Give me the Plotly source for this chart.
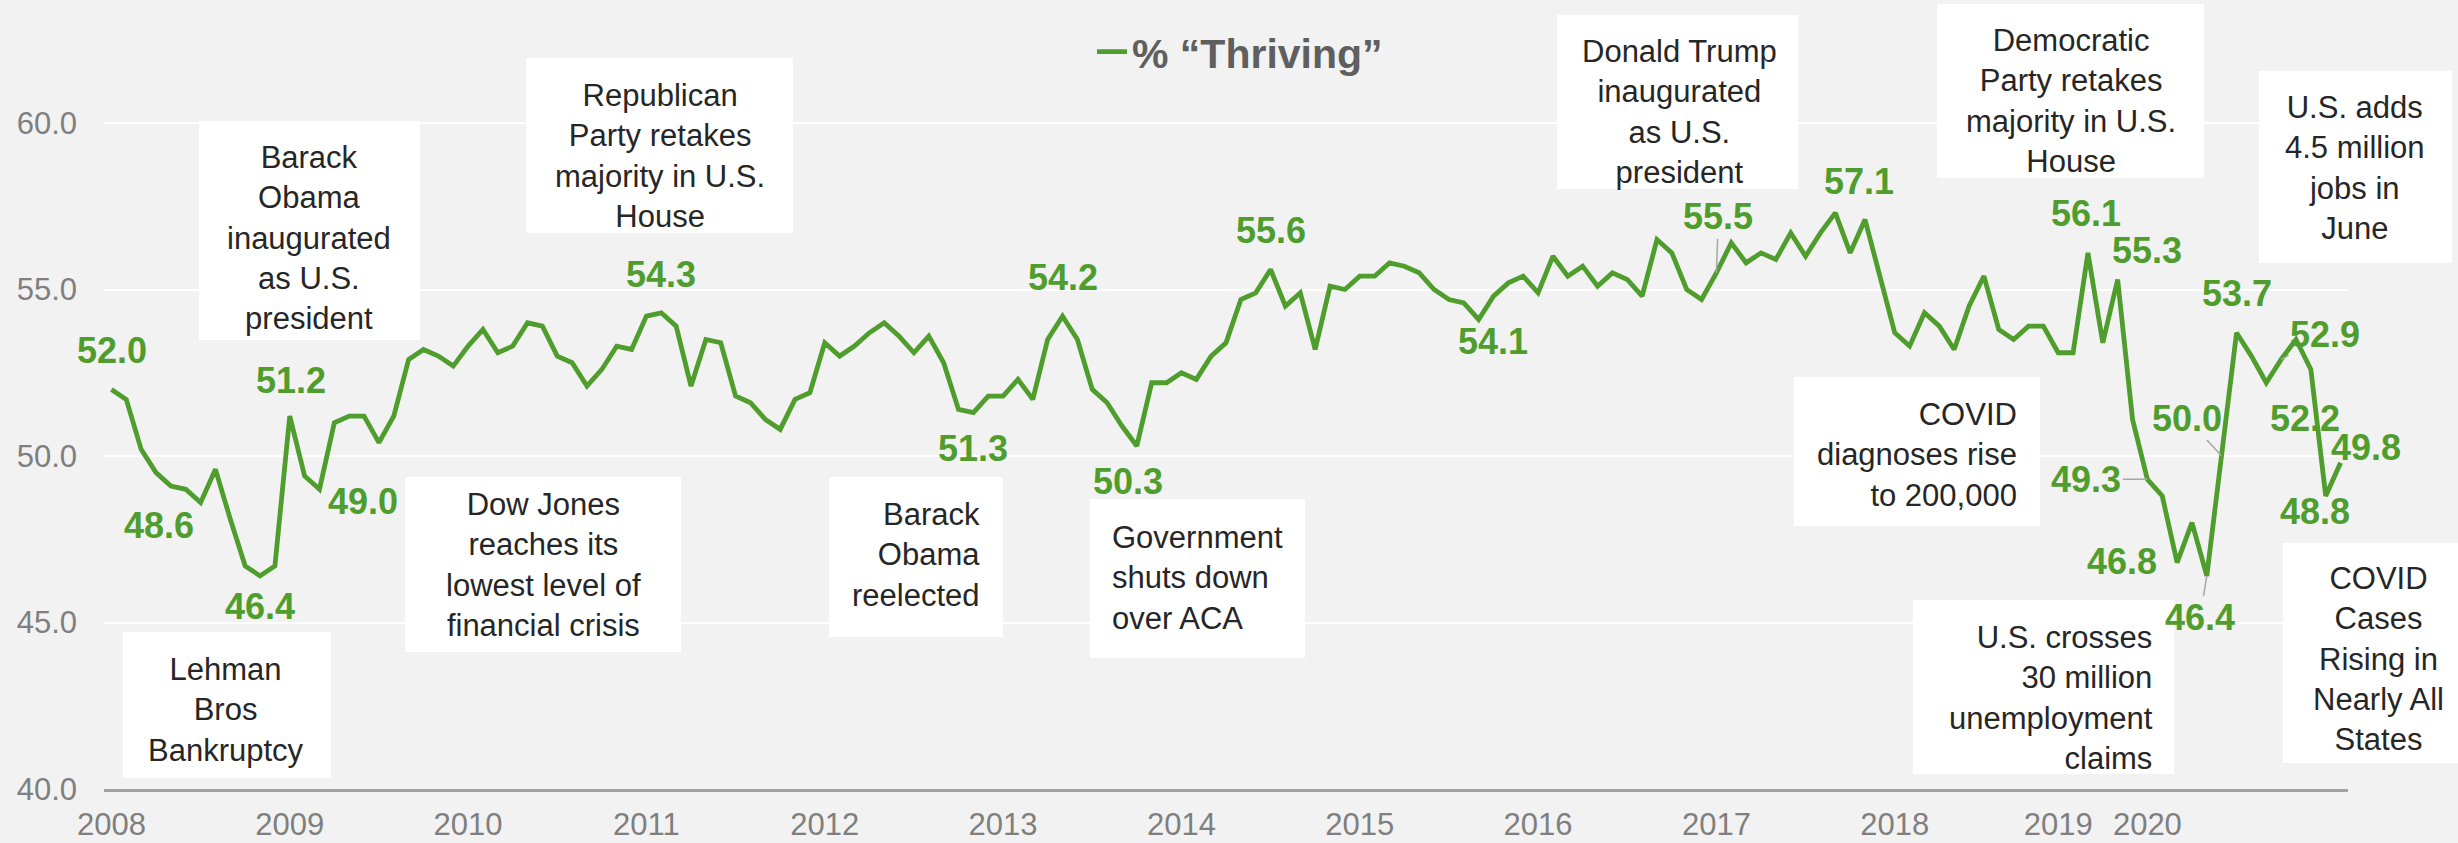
import plotly.graph_objects as go

# ---------------- data ----------------
years = list(range(2008, 2021))
points_per_year = [12] * 10 + [11, 6, 14]

thriving = [
    # 2008
    52.0, 51.7, 50.2, 49.5, 49.1, 49.0, 48.6, 49.6, 48.1, 46.7, 46.4, 46.7,
    # 2009
    51.2, 49.4, 49.0, 51.0, 51.2, 51.2, 50.4, 51.2, 52.9, 53.2, 53.0, 52.7,
    # 2010
    53.3, 53.8, 53.1, 53.3, 54.0, 53.9, 53.0, 52.8, 52.1, 52.6, 53.3, 53.2,
    # 2011
    54.2, 54.3, 53.9, 52.1, 53.5, 53.4, 51.8, 51.6, 51.1, 50.8, 51.7, 51.9,
    # 2012
    53.4, 53.0, 53.3, 53.7, 54.0, 53.6, 53.1, 53.6, 52.8, 51.4, 51.3, 51.8,
    # 2013
    51.8, 52.3, 51.7, 53.5, 54.2, 53.5, 52.0, 51.6, 50.9, 50.3, 52.2, 52.2,
    # 2014
    52.5, 52.3, 53.0, 53.4, 54.7, 54.9, 55.6, 54.5, 54.9, 53.2, 55.1, 55.0,
    # 2015
    55.4, 55.4, 55.8, 55.7, 55.5, 55.0, 54.7, 54.6, 54.1, 54.8, 55.2, 55.4,
    # 2016
    54.9, 56.0, 55.4, 55.7, 55.1, 55.5, 55.3, 54.8, 56.5, 56.1, 55.0, 54.7,
    # 2017
    55.5, 56.4, 55.8, 56.1, 55.9, 56.7, 56.0, 56.7, 57.3, 56.1, 57.1, 55.4,
    # 2018
    53.7, 53.3, 54.3, 53.9, 53.2, 54.5, 55.4, 53.8, 53.5, 53.9, 53.9,
    # 2019
    53.1, 53.1, 56.1, 53.4, 55.3, 51.1,
    # 2020
    49.3, 48.8, 46.8, 48.0, 46.4, 50.0, 53.7, 53.0, 52.2, 52.9, 53.5, 52.6, 48.8, 49.8,
]

periods = [f"{y}-{k:02d}" for y, n in zip(years, points_per_year) for k in range(1, n + 1)]
year_ticks = [f"{y}-01" for y in years]
year_labels = [str(y) for y in years]

y_ticks = [40, 45, 50, 55, 60]

# labelled points: (index, x shift px, y shift px (up))
labelled = [(0, 1, 39), (6, -42, -23), (10, 0, -31), (12, 1, 36), (14, 44, -12),
            (37, 0, 38), (58, 0, -36), (64, 0, 39), (69, -9, -35), (78, 0, 39),
            (92, 14, -22), (118, -6, 38), (133, -2, 39), (135, 29, 29),
            (139, -55, 1), (143, 0, 39), (145, 39, -36), (149, -11, -16), (150, 25, 15)]
# labelled points with leader lines: (index, ax, ay) in screen px
leadered = [(108, 2, -56), (137, -61, 0), (141, -7, 42), (142, -35, -38), (146, 44, -25)]

events = [
    # text, box (x0, y0, x1, y1) px, align, anchor x px, text centre y px
    ("Lehman<br>Bros<br>Bankruptcy", (123, 632, 331, 778), "center", 226, 710),
    ("Barack<br>Obama<br>inaugurated<br>as U.S.<br>president", (199, 121, 420, 340), "center", 309, 238),
    ("Dow Jones<br>reaches its<br>lowest level of<br>financial crisis", (405, 477, 681, 652), "center", 543, 565),
    ("Republican<br>Party retakes<br>majority in U.S.<br>House", (526, 58, 793, 233), "center", 660, 156),
    ("Barack<br>Obama<br>reelected", (829, 477, 1003, 637), "right", 982, 555),
    ("Government<br>shuts down<br>over ACA", (1090, 499, 1305, 658), "left", 1110, 578),
    ("Donald Trump<br>inaugurated<br>as U.S.<br>president", (1557, 15, 1798, 189), "center", 1679, 112),
    ("Democratic<br>Party retakes<br>majority in U.S.<br>House", (1937, 4, 2204, 178), "center", 2071, 101),
    ("U.S. adds<br>4.5 million<br>jobs in<br>June", (2259, 71, 2452, 263), "center", 2355, 168),
    ("COVID<br>diagnoses rise<br>to 200,000", (1794, 377, 2040, 526), "right", 2019, 455),
    ("U.S. crosses<br>30 million<br>unemployment<br>claims", (1913, 600, 2174, 774), "right", 2155, 698),
    ("COVID<br>Cases<br>Rising in<br>Nearly All<br>States", (2283, 543, 2470, 763), "center", 2378, 659),
]

# ---------------- geometry / style ----------------
W, H = 2458, 843
ML, MR, MT, MB = 104, 110, 0, 54
PW, PH = W - ML - MR, H - MT - MB
PX_PER_UNIT = (PH - 123) / 20.0  # 60.0 gridline sits at y=123


def pxx(x):
    return (x - ML) / PW


def pxy(y):
    return (H - MB - y) / PH


GREEN = "#4F9D2D"
FONT = "Liberation Sans, Arial, sans-serif"
TEXT_DARK = "#262626"
GREY = "#7F7F7F"

fig = go.Figure()
fig.add_trace(go.Scatter(
    x=periods, y=thriving, mode="lines",
    name="<b>% “Thriving”</b>",
    line=dict(color=GREEN, width=4.8),
    hoverinfo="skip",
))

annotations = []
for i, dx, dy in labelled:
    annotations.append(dict(
        x=periods[i], y=thriving[i], xref="x", yref="y",
        text=f"<b>{thriving[i]:.1f}</b>", showarrow=False,
        xshift=dx, yshift=dy,
        font=dict(family=FONT, size=36, color=GREEN),
    ))
for i, ax, ay in leadered:
    annotations.append(dict(
        x=periods[i], y=thriving[i], xref="x", yref="y",
        text=f"<b>{thriving[i]:.1f}</b>", showarrow=True,
        ax=ax, ay=ay, arrowhead=0, arrowwidth=1.5, arrowcolor="#A6A6A6",
        standoff=0, startstandoff=0,
        font=dict(family=FONT, size=36, color=GREEN),
    ))

shapes = []
for text, (x0, y0, x1, y1), align, ax_px, cy in events:
    shapes.append(dict(
        type="rect", xref="paper", yref="paper",
        x0=pxx(x0), x1=pxx(x1), y0=pxy(y1), y1=pxy(y0),
        fillcolor="white", line=dict(width=0), layer="below",
    ))
    annotations.append(dict(
        x=pxx(ax_px), y=pxy(cy), xref="paper", yref="paper",
        text=text, showarrow=False, align=align,
        xanchor=align, yanchor="middle",
        font=dict(family=FONT, size=31, color=TEXT_DARK),
    ))

fig.update_layout(
    width=W, height=H,
    margin=dict(l=ML, r=MR, t=MT, b=MB, autoexpand=False),
    paper_bgcolor="#F2F2F2", plot_bgcolor="#F2F2F2",
    font=dict(family=FONT, color=GREY),
    showlegend=True,
    legend=dict(
        x=pxx(1092), y=pxy(52), xanchor="left", yanchor="middle",
        bgcolor="rgba(0,0,0,0)", orientation="h",
        font=dict(family=FONT, size=41, color="#5F5F5F"),
    ),
    annotations=annotations,
    shapes=shapes,
)
fig.update_xaxes(
    type="category", range=[-0.5, len(periods) - 0.5],
    tickmode="array", tickvals=year_ticks, ticktext=year_labels,
    showgrid=False, showline=True, linecolor="#A0A0A0", linewidth=2.5,
    ticks="", ticklabelstandoff=6,
    tickfont=dict(family=FONT, size=31, color=GREY),
    zeroline=False,
)
fig.update_yaxes(
    range=[40, 40 + PH / PX_PER_UNIT],
    tickmode="array", tickvals=y_ticks, tickformat=".1f",
    showgrid=True, gridcolor="white", gridwidth=2,
    showline=False, zeroline=False, ticks="",
    ticklabelstandoff=26,
    tickfont=dict(family=FONT, size=31, color=GREY),
)

fig.write_html(
    "out.html",
    config={"displayModeBar": False},
    post_script="document.body.style.margin='0';document.body.style.overflow='hidden';",
)
